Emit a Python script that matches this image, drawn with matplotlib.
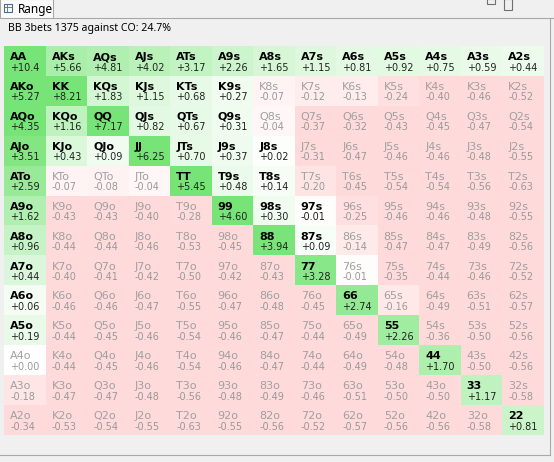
import numpy as np
import matplotlib
matplotlib.use("Agg")
import matplotlib.pyplot as plt
from matplotlib.patches import Rectangle

title = "BB 3bets 1375 against CO: 24.7%"
ranks = "AKQJT98765432"

# EV per hand, row i / col j: i<j suited, i>j offsuit, i==j pair
ev = [
    [10.4, 5.66, 4.81, 4.02, 3.17, 2.26, 1.65, 1.15, 0.81, 0.92, 0.75, 0.59, 0.44],
    [5.27, 8.21, 1.83, 1.15, 0.68, 0.27, -0.07, -0.12, -0.13, -0.24, -0.40, -0.46, -0.52],
    [4.35, 1.16, 7.17, 0.82, 0.67, 0.31, -0.04, -0.37, -0.32, -0.43, -0.45, -0.47, -0.54],
    [3.51, 0.43, 0.09, 6.25, 0.70, 0.37, 0.02, -0.31, -0.47, -0.46, -0.46, -0.48, -0.55],
    [2.59, -0.07, -0.08, -0.04, 5.45, 0.48, 0.14, -0.20, -0.45, -0.54, -0.54, -0.56, -0.63],
    [1.62, -0.43, -0.43, -0.40, -0.28, 4.60, 0.30, -0.01, -0.25, -0.46, -0.46, -0.48, -0.55],
    [0.96, -0.44, -0.44, -0.46, -0.53, -0.45, 3.94, 0.09, -0.14, -0.47, -0.47, -0.49, -0.56],
    [0.44, -0.40, -0.41, -0.42, -0.50, -0.42, -0.43, 3.28, -0.01, -0.35, -0.44, -0.46, -0.52],
    [0.06, -0.46, -0.46, -0.47, -0.55, -0.47, -0.48, -0.45, 2.74, -0.16, -0.49, -0.51, -0.57],
    [0.19, -0.44, -0.45, -0.46, -0.54, -0.46, -0.47, -0.44, -0.49, 2.26, -0.36, -0.50, -0.56],
    [0.00, -0.44, -0.45, -0.46, -0.54, -0.46, -0.47, -0.44, -0.49, -0.48, 1.70, -0.50, -0.56],
    [-0.18, -0.47, -0.47, -0.48, -0.56, -0.48, -0.49, -0.46, -0.51, -0.50, -0.50, 1.17, -0.58],
    [-0.34, -0.53, -0.54, -0.55, -0.63, -0.55, -0.56, -0.52, -0.57, -0.56, -0.56, -0.58, 0.81],
]
extra_in_range = ["97s"]

# shading weight per hand type
shade_weight = {"pair": 12, "s": 4, "o": 12}

green = np.array([118, 228, 118]) / 255.0
pink = np.array([255, 218, 218]) / 255.0
white = np.ones(3)


def hand_name(i, j):
    if i == j:
        return ranks[i] + ranks[j]
    if i < j:
        return ranks[i] + ranks[j] + "s"
    return ranks[j] + ranks[i] + "o"


def hand_type(i, j):
    if i == j:
        return "pair"
    return "s" if i < j else "o"


def cell_color(v, kind):
    if v > 0:
        t = min(1.0, v * shade_weight[kind] / 50.0) ** 0.6
        return white * (1 - t) + green * t
    t = min(1.0, -v / 0.3) ** 0.8
    return white * (1 - t) + pink * t


ev = np.array(ev)
n = len(ranks)
img = np.zeros((n, n, 3))
for i in range(n):
    for j in range(n):
        img[i, j] = cell_color(ev[i, j], hand_type(i, j))

fig = plt.figure(figsize=(5.54, 4.62), dpi=100)
fig.patch.set_facecolor("#f0f0f0")

# window chrome in pixel coords
bg = fig.add_axes([0, 0, 1, 1])
bg.set_xlim(0, 554)
bg.set_ylim(462, 0)
bg.axis("off")
bg.add_patch(Rectangle((0, -1), 53, 18.5, facecolor="#fbfbfb", edgecolor="#a8a8a8", lw=0.8))
bg.plot([53, 554], [17.5, 17.5], color="#a8a8a8", lw=0.8)
bg.plot([549.5, 549.5], [17.5, 455], color="#a8a8a8", lw=0.8)
bg.plot([0, 549.5], [455, 455], color="#a8a8a8", lw=0.8)
bg.add_patch(Rectangle((4, 4), 8, 8, facecolor="none", edgecolor="#4a6a90", lw=0.8))
bg.plot([4, 12], [7, 7], color="#4a6a90", lw=0.6)
bg.plot([7, 7], [4, 12], color="#4a6a90", lw=0.6)
bg.text(18, 9, "Range", fontsize=8.5, family="Noto Sans", va="center", ha="left", color="#000000")
bg.add_patch(Rectangle((487, -1), 8, 5, facecolor="none", edgecolor="#707070", lw=0.8))
bg.add_patch(Rectangle((503.5, -1), 8.5, 11, facecolor="none", edgecolor="#707070", lw=0.8))
bg.text(8, 28, title, fontsize=7.6, family="Noto Sans", va="center", ha="left", color="#000000")

# range grid
ax = fig.add_axes([4 / 554, 1 - 435 / 462, 539.5 / 554, 389 / 462])
ax.imshow(img, extent=(0, n, n, 0), aspect="auto", interpolation="nearest")
ax.set_xlim(0, n)
ax.set_ylim(n, 0)
ax.axis("off")

for i in range(n):
    for j in range(n):
        name = hand_name(i, j)
        v = ev[i, j]
        in_range = v > 0 or name in extra_in_range
        if abs(v) >= 10:
            vs = "%+.1f" % v
        else:
            vs = "%+.2f" % v
        if in_range:
            ax.text(j + 0.15, i + 0.47, name, fontsize=8, fontweight="bold",
                    color="#000000", va="baseline", ha="left")
            ax.text(j + 0.15, i + 0.82, vs, fontsize=7, color="#222222",
                    va="baseline", ha="left")
        else:
            ax.text(j + 0.15, i + 0.47, name, fontsize=8, color="#a0a0a0",
                    va="baseline", ha="left")
            ax.text(j + 0.15, i + 0.82, vs, fontsize=7, color="#999999",
                    va="baseline", ha="left")

fig.savefig("out.png", dpi=100, facecolor=fig.get_facecolor())
